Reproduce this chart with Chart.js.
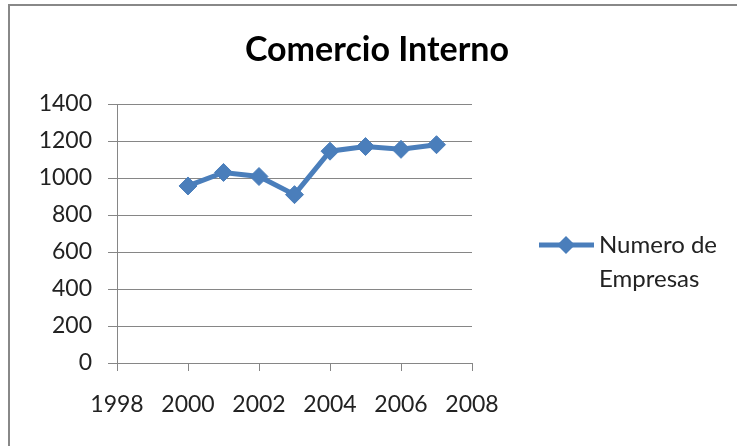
<!DOCTYPE html>
<html>
<head>
<meta charset="utf-8">
<script src="https://cdn.jsdelivr.net/npm/chart.js@4"></script>
<style>
  html, body { margin: 0; padding: 0; background: #fff; overflow: hidden; }
  #wrap { position: relative; width: 737px; height: 446px; }
  #frame { position: absolute; left: 8px; top: 4px; width: 800px; height: 500px; border: 2px solid #888; box-sizing: border-box; }
  canvas { position: absolute; left: 0; top: 0; }
</style>
</head>
<body>
<div id="wrap">
  <div id="frame"></div>
  <canvas id="chart" width="737" height="446"></canvas>
</div>
<script>
const titleText = 'Comercio Interno';
const seriesLabel = ['Numero de', 'Empresas'];
const years = [2000, 2001, 2002, 2003, 2004, 2005, 2006, 2007];
const empresas = [957, 1030, 1008, 910, 1145, 1170, 1155, 1180];
const xRange = [1998, 2008];
const yRange = [0, 1400];

const blue = '#4a7ebb';
const fontFamily = 'Lato, "Open Sans", sans-serif';

// title and two-line legend drawn by hand
const decorations = {
    id: 'decorations',
    afterDraw(chart) {
        const ctx = chart.ctx;
        ctx.save();
        ctx.fillStyle = '#000';
        ctx.font = 'bold 34px ' + fontFamily;
        ctx.textAlign = 'center';
        ctx.textBaseline = 'middle';
        ctx.fillText(titleText, 377, 50);

        // legend line + marker
        ctx.strokeStyle = blue;
        ctx.lineWidth = 5;
        ctx.beginPath();
        ctx.moveTo(539, 245);
        ctx.lineTo(594, 245);
        ctx.stroke();
        ctx.fillStyle = blue;
        ctx.beginPath();
        ctx.moveTo(566, 236);
        ctx.lineTo(575, 245);
        ctx.lineTo(566, 254);
        ctx.lineTo(557, 245);
        ctx.closePath();
        ctx.fill();

        ctx.fillStyle = '#222';
        ctx.font = '24px ' + fontFamily;
        ctx.textAlign = 'left';
        ctx.fillText(seriesLabel[0], 599, 245);
        ctx.fillText(seriesLabel[1], 599, 279);
        ctx.restore();
    }
};

const ctx = document.getElementById('chart').getContext('2d');
new Chart(ctx, {
    type: 'line',
    data: {
        datasets: [{
            label: seriesLabel.join(' '),
            data: years.map((y, i) => ({ x: y, y: empresas[i] })),
            borderColor: blue,
            backgroundColor: blue,
            borderWidth: 5,
            tension: 0,
            pointStyle: 'rectRot',
            pointRadius: 9,
            pointHoverRadius: 9,
            pointBorderWidth: 1,
            pointBorderColor: blue
        }]
    },
    plugins: [decorations],
    options: {
        responsive: false,
        animation: false,
        layout: { padding: { top: 104, right: 265, bottom: 0, left: 0 } },
        plugins: {
            legend: { display: false },
            title: { display: false },
            tooltip: { enabled: false }
        },
        scales: {
            x: {
                type: 'linear',
                min: xRange[0],
                max: xRange[1],
                afterFit: s => { s.height = 83; },
                border: { color: '#868686', width: 1 },
                grid: { drawOnChartArea: false, color: '#868686', tickLength: 8 },
                ticks: {
                    stepSize: 2,
                    padding: 20,
                    color: '#222',
                    font: { family: fontFamily, size: 23 },
                    maxRotation: 0,
                    callback: v => String(v)
                }
            },
            y: {
                min: yRange[0],
                max: yRange[1],
                afterFit: s => { s.width = 117; },
                border: { color: '#868686', width: 1 },
                grid: { color: '#868686', tickLength: 9 },
                ticks: {
                    stepSize: 200,
                    padding: 16,
                    color: '#222',
                    font: { family: fontFamily, size: 23 },
                    callback: v => String(v)
                }
            }
        }
    }
});
</script>
</body>
</html>
